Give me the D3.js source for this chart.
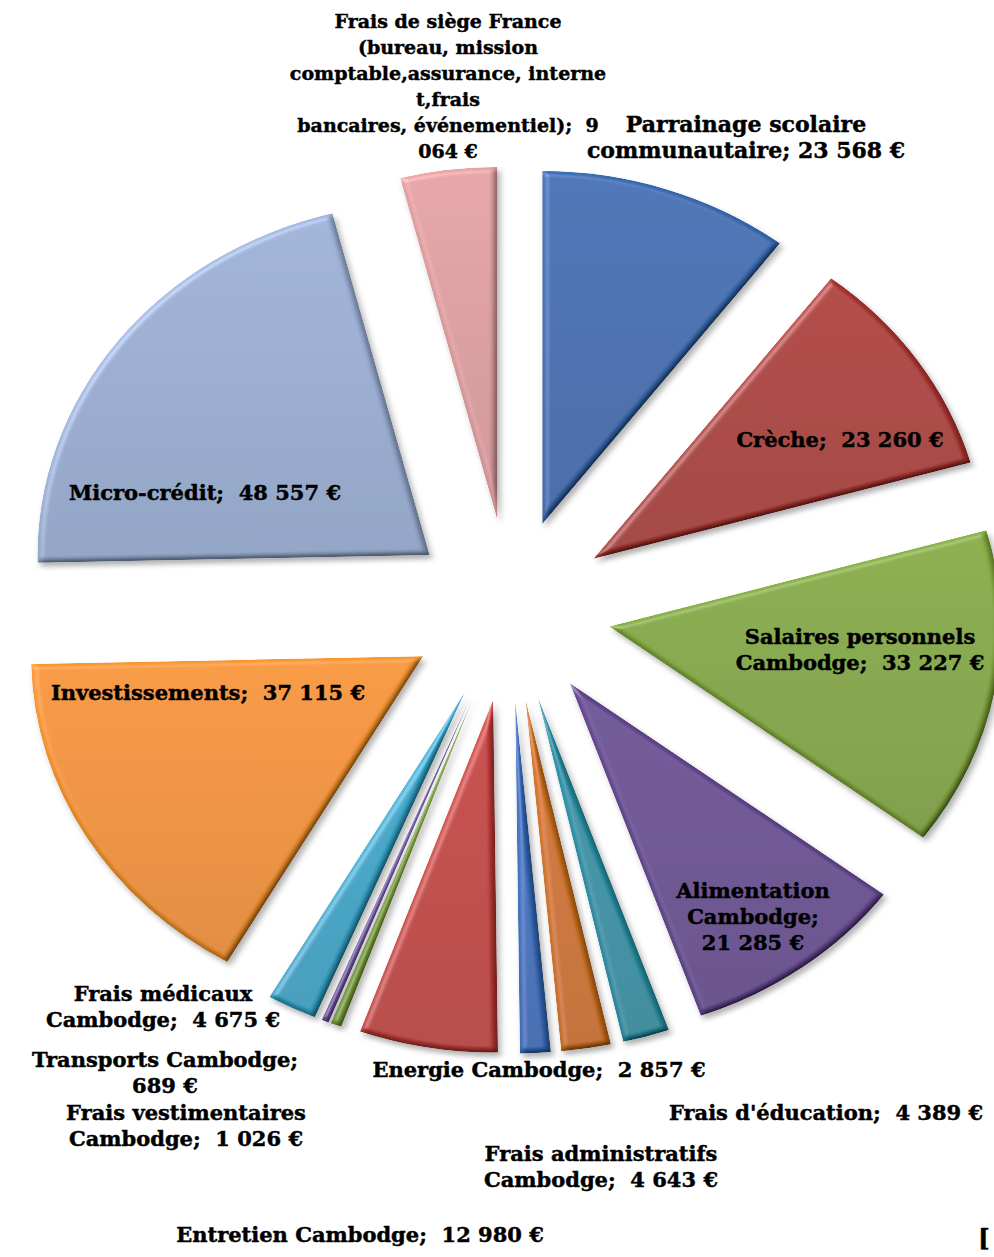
<!DOCTYPE html>
<html>
<head>
<meta charset="utf-8">
<script src="https://cdn.jsdelivr.net/npm/d3@7"></script>
<style>
  body { margin: 0; background: #fff; }
  text { font-family: "DejaVu Serif", serif; font-weight: bold; fill: #000; stroke: #000; stroke-width: 0.45; white-space: pre; }
</style>
</head>
<body>
<div id="chart"></div>
<script>
const categories = [
  'Parrainage scolaire communautaire', 'Crèche', 'Salaires personnels Cambodge',
  'Alimentation Cambodge', "Frais d'éducation", 'Frais administratifs Cambodge',
  'Energie Cambodge', 'Entretien Cambodge', 'Frais vestimentaires Cambodge',
  'Transports Cambodge', 'Frais médicaux Cambodge', 'Investissements', 'Micro-crédit',
  'Frais de siège France (bureau, mission comptable,assurance, internet,frais bancaires, événementiel)'
]
const values = [23568, 23260, 33227, 21285, 4389, 4643, 2857, 12980, 1026, 689, 4675, 37115, 48557, 9064]
const colors = [
  '#3a6cb3', '#ad3733', '#84aa3d', '#684a94', '#2893a8', '#d3731c', '#386fc0',
  '#c53d3a', '#89b240', '#6f53a2', '#34a8cc', '#f7942b', '#9bb0d6', '#e2a0a2'
]
const labelLines = [
  ['Parrainage scolaire', 'communautaire; 23 568 €'],
  ['Crèche;  23 260 €'],
  ['Salaires personnels', 'Cambodge;  33 227 €'],
  ['Alimentation', 'Cambodge;', '21 285 €'],
  ["Frais d'éducation;  4 389 €"],
  ['Frais administratifs', 'Cambodge;  4 643 €'],
  ['Energie Cambodge;  2 857 €'],
  ['Entretien Cambodge;  12 980 €'],
  ['Frais vestimentaires', 'Cambodge;  1 026 €'],
  ['Transports Cambodge;', '689 €'],
  ['Frais médicaux', 'Cambodge;  4 675 €'],
  ['Investissements;  37 115 €'],
  ['Micro-crédit;  48 557 €'],
  ['Frais de siège France', '(bureau, mission', 'comptable,assurance, interne', 't,frais', 'bancaires, événementiel);  9', '064 €']
]

// where each data label sits (centre x, first baseline y, font size) – hand placed like in the original
const labelPos = [
  [746, 132, 22], [840, 447, 21], [860, 644, 21], [753, 898, 21], [826, 1120, 21], [601, 1161, 21],
  [539, 1077, 21], [360, 1242, 21], [186, 1120, 21], [165, 1067, 21], [163, 1001, 21],
  [208, 700, 21], [205, 500, 21], [448, 28, 19]
]

const width = 994
const height = 1257
const cx = 510
const cy = 610
const radius = 392
const squash = 0.9
const explode = 101
const lineHeight = 26

const svg = d3.select('#chart').append('svg')
  .attr('width', width)
  .attr('height', height)

const defs = svg.append('defs')

// bevel + drop shadow, a bit like the office "soft" shape style
const f = defs.append('filter').attr('id', 'bevel')
  .attr('x', '-15%').attr('y', '-15%').attr('width', '135%').attr('height', '135%')
f.append('feGaussianBlur').attr('in', 'SourceAlpha').attr('stdDeviation', 3).attr('result', 'blur')
const diff = f.append('feDiffuseLighting').attr('in', 'blur').attr('surfaceScale', 4)
  .attr('diffuseConstant', 1).attr('lighting-color', '#fff').attr('result', 'diff')
diff.append('feDistantLight').attr('azimuth', 225).attr('elevation', 55)
f.append('feComposite').attr('in', 'SourceGraphic').attr('in2', 'diff').attr('operator', 'arithmetic')
  .attr('k1', 1.12).attr('k2', 0).attr('k3', 0).attr('k4', 0).attr('result', 'lit')
const spec = f.append('feSpecularLighting').attr('in', 'blur').attr('surfaceScale', 4)
  .attr('specularConstant', 0.5).attr('specularExponent', 20).attr('lighting-color', '#fff').attr('result', 'spec')
spec.append('feDistantLight').attr('azimuth', 225).attr('elevation', 45)
f.append('feComposite').attr('in', 'spec').attr('in2', 'SourceAlpha').attr('operator', 'in').attr('result', 'specIn')
f.append('feComposite').attr('in', 'lit').attr('in2', 'specIn').attr('operator', 'arithmetic')
  .attr('k1', 0).attr('k2', 1).attr('k3', 0.4).attr('k4', 0).attr('result', 'bev')
f.append('feComposite').attr('in', 'bev').attr('in2', 'SourceAlpha').attr('operator', 'in').attr('result', 'bevIn')
f.append('feGaussianBlur').attr('in', 'SourceAlpha').attr('stdDeviation', 3).attr('result', 'sb')
f.append('feOffset').attr('in', 'sb').attr('dx', 3).attr('dy', 4).attr('result', 'so')
f.append('feFlood').attr('flood-color', '#000').attr('flood-opacity', 0.3)
f.append('feComposite').attr('in2', 'so').attr('operator', 'in').attr('result', 'shadow')
const merge = f.append('feMerge')
merge.append('feMergeNode').attr('in', 'shadow')
merge.append('feMergeNode').attr('in', 'bevIn')

colors.forEach((c, i) => {
  const g = defs.append('linearGradient').attr('id', 'grad' + i)
    .attr('x1', 0).attr('y1', 0).attr('x2', 0).attr('y2', 1)
  g.append('stop').attr('offset', '0%').attr('stop-color', d3.color(c).brighter(0.1))
  g.append('stop').attr('offset', '100%').attr('stop-color', d3.color(c).darker(0.2))
})

const data = categories.map((name, i) => ({ name, value: values[i], i }))

const pie = d3.pie()
  .sort(null)
  .value(d => d.value)
  .startAngle(0)
  .endAngle(2 * Math.PI)

const arc = d3.arc()
  .innerRadius(0)
  .outerRadius(radius)

const plot = svg.append('g')
  .attr('transform', `translate(${cx},${cy}) scale(1,${squash})`)

plot.selectAll('.slice')
  .data(pie(data))
  .enter()
  .append('path')
  .attr('class', 'slice')
  .attr('d', arc)
  .attr('fill', d => `url(#grad${d.data.i})`)
  .attr('filter', 'url(#bevel)')
  .attr('transform', d => {
    const a = (d.startAngle + d.endAngle) / 2
    return `translate(${Math.sin(a) * explode},${-Math.cos(a) * explode})`
  })

const labels = svg.append('g').attr('class', 'labels')
  .selectAll('text')
  .data(labelLines)
  .enter()
  .append('text')
  .attr('text-anchor', 'middle')
  .attr('font-size', (d, i) => labelPos[i][2])

labels.selectAll('tspan')
  .data((d, i) => d.map((line, j) => ({ line, j, i })))
  .enter()
  .append('tspan')
  .attr('x', d => labelPos[d.i][0])
  .attr('y', d => labelPos[d.i][1] + d.j * lineHeight)
  .text(d => d.line)

// stray bracket at the bottom right of the original picture
svg.append('text')
  .attr('x', 978)
  .attr('y', 1247)
  .attr('font-size', 25)
  .text('[')
</script>
</body>
</html>
